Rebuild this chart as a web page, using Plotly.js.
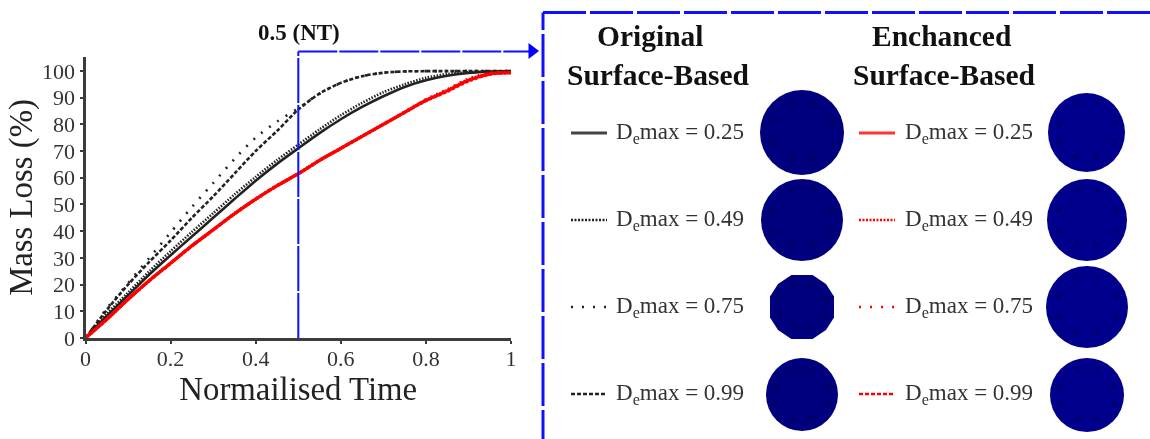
<!DOCTYPE html>
<html>
<head>
<meta charset="utf-8">
<script src="https://cdn.plot.ly/plotly-3.0.1.min.js"></script>
<style>html,body{margin:0;padding:0;background:#fff;overflow:hidden}#chart{width:1150px;height:439px;filter:blur(0.7px)}</style>
</head>
<body>
<div id="chart"></div>
<script>
const time = [0,0.05,0.1,0.15,0.2,0.25,0.3,0.35,0.4,0.45,0.5,0.55,0.6,0.65,0.7,0.75,0.8,0.85,0.9,0.95,1];
const orig025 = [0,8.3,16,23.8,31,38,45,52,58.9,65.2,71,76.7,81.9,86.5,90.5,94,96.5,98.2,99.2,99.7,99.9];
const orig049 = [0,9,17,25,32.5,39.7,46.7,53.7,60.3,66.6,72.4,78.1,83.4,88,92,95,97.4,98.8,99.5,99.8,99.9];
const orig075 = [0,11,20.5,30,39.5,49,58,67,75,81,86,91.5,95.5,98,99.3,99.8,99.9,99.9,99.9,99.9,99.9];
const orig099 = [0,10.5,20,28.5,36.5,45,53,61.5,70,77.5,85.5,91.5,95.5,98,99.3,99.8,99.9,99.9,99.9,99.9,99.9];
const enh025 = [0,7,14.5,21.5,28,34.5,40.5,46.5,52,57,61.5,66.5,71,75.5,80,84.5,89,92.5,96.5,98.8,99.3];
const enh049 = [0,7,14.5,21.5,28,34.5,40.5,46.5,52,57,61.5,66.5,71,75.5,80,84.5,89,92.7,96.7,99,99.4];
const enh075 = [0,7,14.5,21.5,28,34.5,40.5,46.5,52,57,61.5,66.5,71,75.5,80,84.5,89.3,93,97,99.2,99.4];
const enh099 = [0,7,14.5,21.5,28,34.5,40.5,46.5,52,57,61.5,66.5,71,75.5,80,84.5,88.8,92.3,96.2,98.8,99.3];
const yTicks = [0,10,20,30,40,50,60,70,80,90,100];
const xTicks = [0,0.2,0.4,0.6,0.8,1];
const xTickText = ['0','0.2','0.4','0.6','0.8','1'];
const legendText = ['D<sub>e</sub>max = 0.25','D<sub>e</sub>max = 0.49','D<sub>e</sub>max = 0.75','D<sub>e</sub>max = 0.99'];

const W = 1150, H = 439;
const px = x => x / W, py = y => 1 - y / H;
const serif = 'Liberation Serif, Times New Roman, serif';
const ink = '#333';

function line(name, y, color, dash, width) {
  return {x: time, y: y, name: name, type: 'scatter', mode: 'lines', cliponaxis: false,
    line: {color: color, dash: dash, width: width, shape: 'spline', smoothing: 0.8}};
}
const traces = [
  line('Original 0.25', orig025, '#222', 'solid', 2.6),
  line('Original 0.49', orig049, '#222', '1.5px,1.5px', 2.6),
  line('Original 0.75', orig075, '#222', '2px,8px', 2.6),
  line('Original 0.99', orig099, '#222', '4px,2px', 2.6),
  line('Enhanced 0.49', enh049, '#f00', '1.5px,1.5px', 3.2),
  line('Enhanced 0.75', enh075, '#f00', '1.5px,5px', 3.2),
  line('Enhanced 0.99', enh099, '#f00', '3px,2px', 3.2),
  line('Enhanced 0.25', enh025, '#f00', 'solid', 3.2)
];

const shapes = [];
const annotations = [];
const blue = '#1010ff';
function seg(x0, y0, x1, y1, color, width, dash) {
  shapes.push({type: 'line', xref: 'paper', yref: 'paper', x0: px(x0), y0: py(y0), x1: px(x1), y1: py(y1),
    line: {color: color, width: width, dash: dash || 'solid'}});
}
function text(t, x, y, size, anchor, bold, color) {
  annotations.push({xref: 'paper', yref: 'paper', x: px(x), y: py(y), text: bold ? '<b>' + t + '</b>' : t,
    showarrow: false, xanchor: anchor, yanchor: 'middle',
    font: {family: serif, size: size, color: color || ink}});
}
function spots(x0, y0, x1, y1, spot) {
  const cx = (x0 + x1) / 2, cy = (y0 + y1) / 2, rx = (x1 - x0) / 2, ry = (y1 - y0) / 2;
  [[-0.25,-0.72],[0.25,-0.72],[-0.72,-0.25],[0.72,-0.25],[-0.72,0.25],[0.72,0.25],[-0.25,0.62],[0.25,0.62]].forEach(p => {
    const a = cx + p[0] * rx, b = cy + p[1] * ry;
    shapes.push({type: 'circle', xref: 'paper', yref: 'paper', x0: px(a - 3), y0: py(b - 3), x1: px(a + 3), y1: py(b + 3),
      fillcolor: spot, line: {width: 0}});
  });
}
function disc(x0, y0, x1, y1, color, spot) {
  shapes.push({type: 'circle', xref: 'paper', yref: 'paper', x0: px(x0), y0: py(y0), x1: px(x1), y1: py(y1),
    fillcolor: color, line: {width: 0}});
  spots(x0, y0, x1, y1, spot);
}
function roughDisc(x0, y0, x1, y1, color, spot) {
  const cx = (x0 + x1) / 2, cy = (y0 + y1) / 2, rx = (x1 - x0) / 2, ry = (y1 - y0) / 2;
  const unit = [[-0.33,-1],[0.33,-1],[0.75,-0.72],[1,-0.33],[1,0.33],[0.75,0.72],[0.33,1],[-0.33,1],[-0.75,0.72],[-1,0.33],[-1,-0.33],[-0.75,-0.72]];
  shapes.push({type: 'path', xref: 'paper', yref: 'paper',
    path: 'M' + unit.map(p => px(cx + p[0] * rx) + ',' + py(cy + p[1] * ry)).join('L') + 'Z',
    fillcolor: color, line: {width: 0}});
  spots(x0, y0, x1, y1, spot);
}

// blue guide from the 0.5 time mark to the panel
seg(298.3, 338, 298.3, 51.5, blue, 2, '45px,2px');
seg(298.3, 51.5, 530, 51.5, blue, 2, '39px,2px');
shapes.push({type: 'path', xref: 'paper', yref: 'paper',
  path: 'M' + px(528.5) + ',' + py(43) + 'L' + px(539) + ',' + py(51) + 'L' + px(528.5) + ',' + py(59) + 'Z',
  fillcolor: '#0000ff', line: {width: 0}});
// dashed panel frame
seg(543, 453, 543, 12.5, blue, 3, '43px,4px');
seg(543, 12.5, 1150, 12.5, blue, 3, '43px,4px');

text('0.5 (NT)', 298.5, 32, 23, 'center', true, '#111');
text('Original', 650, 36.5, 29.5, 'center', true, '#111');
text('Surface-Based', 657.5, 75, 29.5, 'center', true, '#111');
text('Enchanced', 941.5, 36.5, 29.5, 'center', true, '#111');
text('Surface-Based', 944, 75, 29.5, 'center', true, '#111');

const rowY = [132, 219, 306, 393];
const sampleDash = ['solid', '2px,1.5px', '2px,9px', '4px,2px'];
rowY.forEach((y, i) => {
  seg(571, y + 1, 607, y + 1, i === 0 ? '#444' : '#222', i === 0 ? 3 : 2.4, sampleDash[i]);
  seg(859, y + 1, 895, y + 1, i === 0 ? '#f33' : '#f00', i === 0 ? 3 : 2.4, sampleDash[i]);
  text(legendText[i], 614, y + 1, 23, 'left');
  text(legendText[i], 902.5, y + 1, 23, 'left');
});

const navy = '#00007e', navyDark = '#000068', navy2 = '#00008c', navy2Dark = '#000076';
disc(760, 90, 844, 175, navy, navyDark);
disc(761, 179, 843, 261, navy, navyDark);
roughDisc(770, 275, 834, 339, navy, navyDark);
disc(766, 358, 838, 431, navy, navyDark);
disc(1048, 93, 1125, 172, navy2, navy2Dark);
disc(1047, 179, 1127, 261, navy2, navy2Dark);
disc(1046, 266, 1128, 348, navy2, navy2Dark);
disc(1050, 358, 1124, 432, navy2, navy2Dark);

const layout = {
  width: W, height: H, autosize: false, showlegend: false,
  paper_bgcolor: '#fff', plot_bgcolor: '#fff',
  margin: {l: 0, r: 0, t: 0, b: 0},
  xaxis: {domain: [px(85.5), px(511)], range: [0, 1], tickvals: xTicks, ticktext: xTickText,
    showgrid: false, zeroline: false, showline: true, linecolor: '#3c3c3c', linewidth: 3,
    ticks: 'outside', ticklen: 3, tickwidth: 2, tickcolor: '#3c3c3c', tickangle: 0, ticklabelstandoff: -4,
    tickfont: {family: serif, size: 22, color: ink},
    title: {text: 'Normailised Time', standoff: 4, font: {family: serif, size: 32.8, color: '#222'}}},
  yaxis: {domain: [py(338), py(57)], range: [0, 105.2], tickvals: yTicks,
    showgrid: false, zeroline: false, showline: true, linecolor: '#3c3c3c', linewidth: 3,
    ticks: 'outside', ticklen: 3, tickwidth: 2, tickcolor: '#3c3c3c',
    tickfont: {family: serif, size: 22, color: ink},
    title: {text: 'Mass Loss (%)', standoff: 0, font: {family: serif, size: 32.8, color: '#222'}}},
  shapes: shapes, annotations: annotations
};
Plotly.newPlot('chart', traces, layout, {displayModeBar: false, staticPlot: true});
</script>
</body>
</html>
